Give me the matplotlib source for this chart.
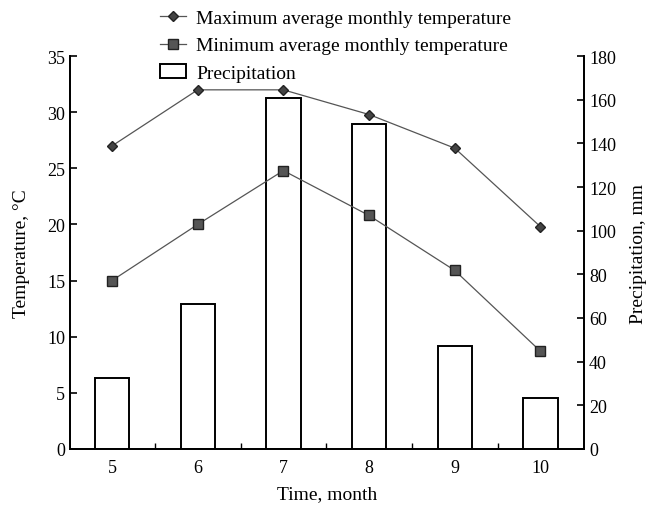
import matplotlib
matplotlib.use('Agg')
import matplotlib.pyplot as plt
from matplotlib.ticker import MultipleLocator

plt.rcParams['font.family'] = ['Liberation Serif', 'DejaVu Serif']
plt.rcParams['font.size'] = 13

# --- data ---
months = [5, 6, 7, 8, 9, 10]
t_max = [27, 32, 32, 29.8, 26.8, 19.8]
t_min = [15, 20, 24.8, 20.8, 15.9, 8.7]
precip = [32.5, 66.5, 161, 149, 47, 23.5]

fig = plt.figure(figsize=(6.5, 5.06), dpi=100)
ax = fig.add_axes([0.1077, 0.111, 0.791, 0.776])
ax2 = ax.twinx()
ax.set_zorder(ax2.get_zorder() + 1)
ax.patch.set_visible(False)

bars = ax2.bar(months, precip, width=0.4, facecolor='white', edgecolor='black',
               linewidth=1.4, label='Precipitation')

l1, = ax.plot(months, t_max, color='#555555', lw=0.9, marker='D', ms=5,
              mfc='#444444', mec='#222222', label='Maximum average monthly temperature')
l2, = ax.plot(months, t_min, color='#555555', lw=0.9, marker='s', ms=7.5,
              mfc='#555555', mec='#222222', label='Minimum average monthly temperature')

ax.set_xlim(4.51, 10.51)
ax.set_ylim(0, 35)
ax2.set_ylim(0, 180)
ax.set_xticks(months)
ax.set_xticks([5.5, 6.5, 7.5, 8.5, 9.5], minor=True)
ax.yaxis.set_major_locator(MultipleLocator(5))
ax2.yaxis.set_major_locator(MultipleLocator(20))

for a in (ax, ax2):
    a.spines['top'].set_visible(False)
    for s in a.spines.values():
        s.set_linewidth(1.3)
ax.tick_params(axis='y', direction='in', length=5, width=1.2)
ax.tick_params(axis='x', which='major', length=0, pad=7)
ax.tick_params(axis='x', which='minor', direction='in', length=4, width=1)
ax2.tick_params(axis='y', direction='in', length=5, width=1.2)

ax.set_xlabel('Time, month', fontsize=14, labelpad=7)
ax.set_ylabel('Temperature, \u00b0C', fontsize=14, labelpad=12)
ax2.set_ylabel('Precipitation, mm', fontsize=14, labelpad=10)

fig.legend([l1, l2, bars], [l1.get_label(), l2.get_label(), 'Precipitation'],
           loc='upper left', bbox_to_anchor=(160 / 650, 1 - 10 / 506), frameon=False,
           borderaxespad=0, borderpad=0, labelspacing=0.52, handlelength=1.34,
           handletextpad=0.53, fontsize=14)

fig.savefig('out.png', dpi=100)
